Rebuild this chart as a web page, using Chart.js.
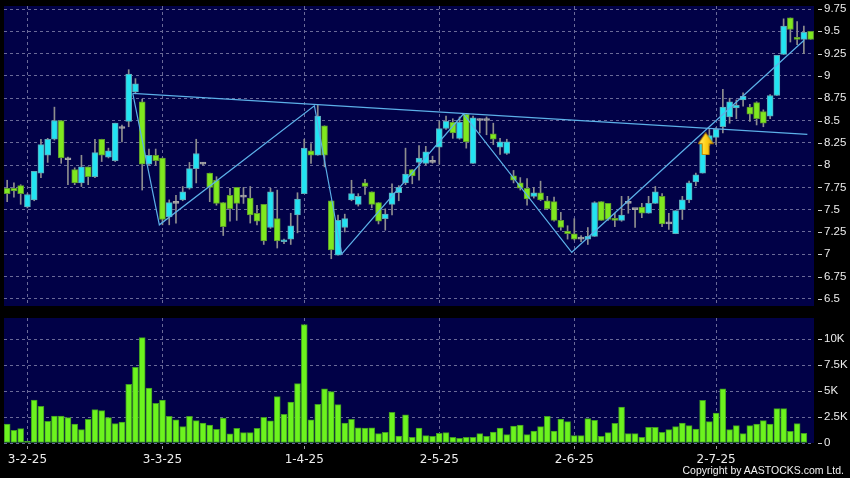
<!DOCTYPE html>
<html>
<head>
<meta charset="utf-8">
<script src="https://cdn.jsdelivr.net/npm/chart.js@4.4.1/dist/chart.umd.min.js"></script>
<style>
  html, body { margin: 0; padding: 0; background: #000; }
  #wrap { position: relative; width: 850px; height: 478px; background: #000; overflow: hidden; }
  #c-price { position: absolute; left: 0; top: 0; }
  #c-vol { position: absolute; left: 0; top: 310px; }
  #copy { position: absolute; right: 6px; top: 464px; font: 10.5px "Liberation Sans", Arial, sans-serif; color: #f2f2f2; white-space: nowrap; }
</style>
</head>
<body>
<div id="wrap">
  <canvas id="c-price" width="850" height="310"></canvas>
  <canvas id="c-vol" width="850" height="168"></canvas>
  <div id="copy">Copyright by AASTOCKS.com Ltd.</div>
</div>
<script>
// Daily candles, index 0 = first bar on the left (late Jan 2025)
const opens = [
  7.74, 7.74, 7.77, 7.53, 7.61, 7.91, 8.11, 8.29, 8.50, 8.06,
  7.95, 7.80, 7.98, 7.87, 8.29, 8.09, 8.05, 8.41, 8.49, 8.82,
  8.71, 8.01, 8.11, 8.08, 7.42, 7.57, 7.61, 7.74, 7.96, 8.01,
  7.91, 7.83, 7.58, 7.66, 7.75, 7.64, 7.63, 7.46, 7.56, 7.30,
  7.40, 7.14, 7.17, 7.44, 7.68, 8.16, 8.11, 8.44, 7.60, 6.99,
  7.30, 7.61, 7.56, 7.80, 7.70, 7.58, 7.40, 7.56, 7.69, 7.80,
  7.95, 8.03, 8.02, 8.03, 8.20, 8.41, 8.48, 8.30, 8.57, 8.02,
  8.50, 8.50, 8.35, 8.20, 8.13, 7.88, 7.80, 7.74, 7.65, 7.69,
  7.60, 7.59, 7.38, 7.26, 7.23, 7.17, 7.17, 7.20, 7.59, 7.57,
  7.40, 7.38, 7.57, 7.50, 7.53, 7.46, 7.57, 7.65, 7.34, 7.23,
  7.50, 7.61, 7.81, 7.91, 8.25, 8.31, 8.43, 8.54, 8.64, 8.73,
  8.65, 8.70, 8.60, 8.55, 8.78, 9.24, 9.65, 9.43, 9.41, 9.50
];
const highs = [
  7.83, 7.80, 7.78, 7.68, 7.93, 8.29, 8.30, 8.65, 8.50, 8.09,
  7.97, 8.11, 7.98, 8.29, 8.29, 8.19, 8.47, 8.45, 9.07, 8.97,
  8.74, 8.18, 8.18, 8.08, 7.61, 7.66, 7.76, 8.03, 8.29, 8.03,
  7.91, 7.87, 7.58, 7.74, 7.75, 7.75, 7.76, 7.55, 7.56, 7.74,
  7.72, 7.17, 7.46, 7.69, 8.29, 8.24, 8.67, 8.44, 7.60, 7.44,
  7.45, 7.83, 7.68, 7.84, 7.70, 7.58, 7.51, 7.79, 7.77, 8.19,
  7.95, 8.22, 8.21, 8.10, 8.49, 8.55, 8.52, 8.54, 8.58, 8.55,
  8.52, 8.54, 8.47, 8.30, 8.29, 7.94, 7.86, 7.85, 7.75, 7.82,
  7.65, 7.64, 7.47, 7.32, 7.40, 7.21, 7.30, 7.59, 7.59, 7.57,
  7.46, 7.65, 7.65, 7.50, 7.57, 7.65, 7.76, 7.68, 7.46, 7.49,
  7.65, 7.82, 7.91, 8.28, 8.40, 8.42, 8.85, 8.75, 8.73, 8.81,
  8.68, 8.71, 8.62, 8.79, 9.23, 9.64, 9.65, 9.61, 9.56, 9.50
];
const lows = [
  7.59, 7.64, 7.56, 7.52, 7.60, 7.86, 8.03, 8.28, 8.02, 7.78,
  7.78, 7.76, 7.78, 7.86, 8.04, 8.08, 8.04, 8.26, 8.43, 8.80,
  7.72, 8.00, 8.00, 7.33, 7.33, 7.35, 7.60, 7.73, 7.80, 8.00,
  7.59, 7.55, 7.21, 7.37, 7.38, 7.57, 7.35, 7.33, 7.11, 7.29,
  7.07, 7.12, 7.11, 7.24, 7.68, 8.02, 8.11, 7.98, 6.95, 6.99,
  7.25, 7.60, 7.54, 7.67, 7.52, 7.34, 7.27, 7.44, 7.60, 7.78,
  7.79, 7.83, 8.00, 8.02, 8.01, 8.40, 8.30, 8.29, 8.19, 8.02,
  8.36, 8.34, 8.23, 8.12, 8.12, 7.80, 7.72, 7.55, 7.63, 7.60,
  7.50, 7.37, 7.27, 7.17, 7.16, 7.14, 7.11, 7.20, 7.38, 7.38,
  7.31, 7.37, 7.46, 7.30, 7.41, 7.46, 7.57, 7.31, 7.28, 7.23,
  7.39, 7.58, 7.77, 7.91, 8.22, 8.23, 8.36, 8.47, 8.52, 8.66,
  8.49, 8.45, 8.43, 8.52, 8.78, 9.24, 9.38, 9.35, 9.25, 9.41
];
const closes = [
  7.68, 7.71, 7.68, 7.67, 7.93, 8.23, 8.29, 8.50, 8.08, 8.06,
  7.80, 7.98, 7.87, 8.14, 8.11, 8.16, 8.47, 8.41, 9.02, 8.91,
  8.01, 8.11, 8.05, 7.39, 7.58, 7.57, 7.70, 7.96, 8.13, 8.01,
  7.75, 7.57, 7.31, 7.51, 7.57, 7.64, 7.44, 7.37, 7.15, 7.70,
  7.15, 7.16, 7.32, 7.62, 8.19, 8.11, 8.55, 8.11, 7.05, 7.38,
  7.40, 7.68, 7.65, 7.76, 7.56, 7.37, 7.45, 7.69, 7.75, 7.90,
  7.88, 8.08, 8.15, 8.03, 8.41, 8.49, 8.36, 8.48, 8.26, 8.53,
  8.50, 8.50, 8.29, 8.26, 8.26, 7.83, 7.74, 7.62, 7.69, 7.61,
  7.51, 7.38, 7.30, 7.23, 7.17, 7.17, 7.20, 7.58, 7.38, 7.39,
  7.38, 7.44, 7.57, 7.50, 7.46, 7.57, 7.70, 7.34, 7.34, 7.49,
  7.61, 7.80, 7.89, 8.25, 8.33, 8.40, 8.65, 8.71, 8.67, 8.77,
  8.57, 8.52, 8.47, 8.78, 9.23, 9.56, 9.52, 9.41, 9.49, 9.41
];
// Volume in thousands of shares (last day has no bar)
const volumesK = [
  1.83, 1.22, 1.38, 0.16, 4.13, 3.53, 2.08, 2.60, 2.60, 2.44,
  1.83, 1.28, 2.28, 3.21, 3.11, 2.44, 1.86, 2.02, 5.64, 7.28,
  10.13, 5.29, 3.81, 4.13, 2.56, 2.24, 1.57, 2.56, 2.15, 1.92,
  1.73, 1.31, 2.40, 0.87, 1.41, 0.99, 0.99, 1.41, 2.47, 2.12,
  4.46, 2.76, 3.94, 5.71, 11.38, 2.24, 3.72, 5.22, 4.94, 3.69,
  1.92, 2.28, 1.47, 1.44, 1.47, 0.90, 1.03, 2.95, 0.67, 2.72,
  0.54, 1.44, 0.71, 0.64, 0.93, 0.99, 0.54, 0.45, 0.54, 0.54,
  0.90, 0.64, 1.06, 1.44, 0.80, 1.63, 1.73, 0.80, 1.15, 1.57,
  2.56, 1.15, 2.31, 2.05, 0.71, 0.71, 2.34, 2.18, 0.64, 0.99,
  1.89, 3.46, 0.90, 0.90, 0.54, 1.51, 1.51, 1.03, 1.28, 1.57,
  1.92, 1.67, 1.35, 4.10, 2.05, 2.88, 5.22, 1.28, 1.67, 0.90,
  1.67, 1.83, 2.15, 1.83, 3.30, 3.30, 1.12, 1.86, 0.93, null
];

const dateLabels = ['3-2-25', '3-3-25', '1-4-25', '2-5-25', '2-6-25', '2-7-25'];
const dateIndex = [3, 23, 44, 64, 84, 105];
const priceTicks = [6.5, 6.75, 7, 7.25, 7.5, 7.75, 8, 8.25, 8.5, 8.75, 9, 9.25, 9.5, 9.75];
const volTicks = [0, 2.5, 5, 7.5, 10];
const volTickLabels = ['0', '2.5K', '5K', '7.5K', '10K'];

// drawn pattern lines (zigzag + neckline), x in bar-index units
const zigX = [18.6, 22.54, 45.5, 49.56, 67.57, 83.62, 118.03];
const zigY = [8.805, 7.33, 8.666, 7.003, 8.573, 7.022, 9.40];
const neckX = [18.6, 118.52];
const neckY = [8.805, 8.345];
const arrowX = 103.45, arrowY = 8.24;

const NAVY = '#010147';
const GRID = '#6a6a98';
const UP = '#22e3f2', UP_EDGE = '#5fa9b8';
const DOWN = '#7fe81f', DOWN_EDGE = '#5d9a2c';
const FLAT = '#a8a8a8';
const WICK = '#8e8e8e';
const LINE = '#5cb0e8';
const LABEL = '#ececec';
const X_MIN = -0.47, X_MAX = 119.5;

const bgPlugin = {
  id: 'plotBg',
  beforeDraw(chart) {
    const { ctx, chartArea: a } = chart;
    ctx.save();
    ctx.fillStyle = NAVY;
    ctx.fillRect(a.left, a.top, a.right - a.left, a.bottom - a.top);
    ctx.restore();
  },
};

// little "-" before every value label on the right axis
const dashPlugin = {
  id: 'axisDash',
  afterDraw(chart) {
    const { ctx, chartArea: a } = chart;
    const s = chart.scales.y;
    ctx.save();
    ctx.strokeStyle = '#cfcfcf';
    ctx.lineWidth = 1;
    s.ticks.forEach(t => {
      const y = Math.round(s.getPixelForValue(t.value)) + 0.5;
      ctx.beginPath();
      ctx.moveTo(a.right + 4, y);
      ctx.lineTo(a.right + 8, y);
      ctx.stroke();
    });
    ctx.restore();
  },
};

function arrowImage() {
  const c = document.createElement('canvas');
  c.width = 16; c.height = 23;
  const g = c.getContext('2d');
  const grad = g.createLinearGradient(0, 0, 16, 0);
  grad.addColorStop(0, '#fff07a');
  grad.addColorStop(0.5, '#ffd21a');
  grad.addColorStop(1, '#e7a800');
  g.beginPath();
  g.moveTo(8, 0.5);
  g.lineTo(15.5, 11.5);
  g.lineTo(11.5, 11.5);
  g.lineTo(11.5, 22.5);
  g.lineTo(4.5, 22.5);
  g.lineTo(4.5, 11.5);
  g.lineTo(0.5, 11.5);
  g.closePath();
  g.fillStyle = grad;
  g.fill();
  g.strokeStyle = '#b07800';
  g.lineWidth = 1;
  g.stroke();
  return c;
}

const idx = opens.map((_, i) => i);
const wicks = idx.map(i => ({ x: i, y: [lows[i], highs[i]] }));
const bodies = idx.map(i => ({ x: i, y: [opens[i], closes[i]] }));
const bodyFill = idx.map(i => closes[i] > opens[i] ? UP : closes[i] < opens[i] ? DOWN : FLAT);
const bodyEdge = idx.map(i => closes[i] > opens[i] ? UP_EDGE : closes[i] < opens[i] ? DOWN_EDGE : FLAT);
const zigzag = zigX.map((x, i) => ({ x, y: zigY[i] }));
const neck = neckX.map((x, i) => ({ x, y: neckY[i] }));
const vols = idx.map(i => ({ x: i, y: volumesK[i] }));

const dateTicks = scale => { scale.ticks = dateIndex.map(v => ({ value: v })); };
const noPad = s => { s.paddingTop = 0; s.paddingBottom = 0; s.paddingLeft = 0; s.paddingRight = 0; };

const gridLines = { color: GRID, offset: false, drawTicks: false };
const dashed = { display: false, dash: [3, 3] };

new Chart(document.getElementById('c-price'), {
  type: 'bar',
  data: {
    datasets: [
      { type: 'scatter', data: [{ x: arrowX, y: arrowY }], pointStyle: arrowImage(), pointRadius: 8, order: -1 },
      { type: 'line', data: neck, borderColor: LINE, borderWidth: 1.2, pointRadius: 0, order: 0 },
      { type: 'line', data: zigzag, borderColor: LINE, borderWidth: 1.2, pointRadius: 0, order: 0 },
      { data: bodies, backgroundColor: bodyFill, borderColor: bodyEdge, borderWidth: 1, borderSkipped: false,
        barThickness: 6, minBarLength: 2, grouped: false, order: 1 },
      { data: wicks, backgroundColor: WICK, borderWidth: 0, barThickness: 1, grouped: false, order: 2 },
    ],
  },
  options: {
    responsive: false,
    animation: false,
    layout: { autoPadding: false, padding: { top: 6, bottom: 4, left: 4, right: 0 } },
    plugins: { legend: { display: false }, tooltip: { enabled: false } },
    scales: {
      x: {
        type: 'linear', min: X_MIN, max: X_MAX, offset: false,
        grid: gridLines, border: dashed,
        ticks: { display: false },
        afterBuildTicks: dateTicks,
        afterFit: s => { s.height = 0; noPad(s); },
      },
      y: {
        position: 'right', min: 6.42, max: 9.784,
        grid: gridLines, border: dashed,
        afterBuildTicks: s => { s.ticks = priceTicks.map(v => ({ value: v })); },
        ticks: { color: LABEL, padding: 10, font: { family: 'Liberation Sans', size: 11.5 }, callback: v => String(v) },
        afterFit: s => { s.width = 36; noPad(s); },
      },
    },
  },
  plugins: [bgPlugin, dashPlugin],
});

new Chart(document.getElementById('c-vol'), {
  type: 'bar',
  data: {
    datasets: [
      { data: vols, backgroundColor: '#6cf31e', borderColor: '#3f9a22', borderWidth: 1, borderSkipped: false,
        barThickness: 6, grouped: false },
    ],
  },
  options: {
    responsive: false,
    animation: false,
    layout: { autoPadding: false, padding: { top: 8, bottom: 0, left: 4, right: 0 } },
    plugins: { legend: { display: false }, tooltip: { enabled: false } },
    scales: {
      x: {
        type: 'linear', min: X_MIN, max: X_MAX, offset: false,
        grid: { color: GRID, offset: false, drawTicks: true, tickLength: 6,
                tickColor: '#9a9a9a', tickBorderDash: [0, 3, 3] },
        border: dashed,
        afterBuildTicks: dateTicks,
        ticks: { color: LABEL, padding: 4, maxRotation: 0, autoSkip: false,
                 font: { family: 'DejaVu Sans', size: 12 },
                 callback: v => dateLabels[dateIndex.indexOf(v)] ?? '' },
        afterFit: s => { s.height = 35; noPad(s); },
      },
      y: {
        position: 'right', min: 0, max: 12.02,
        grid: gridLines, border: dashed,
        afterBuildTicks: s => { s.ticks = volTicks.map(v => ({ value: v })); },
        ticks: { color: LABEL, padding: 10, font: { family: 'Liberation Sans', size: 11.5 },
                 callback: v => volTickLabels[volTicks.indexOf(v)] },
        afterFit: s => { s.width = 36; noPad(s); },
      },
    },
  },
  plugins: [bgPlugin, dashPlugin],
});
</script>
</body>
</html>
